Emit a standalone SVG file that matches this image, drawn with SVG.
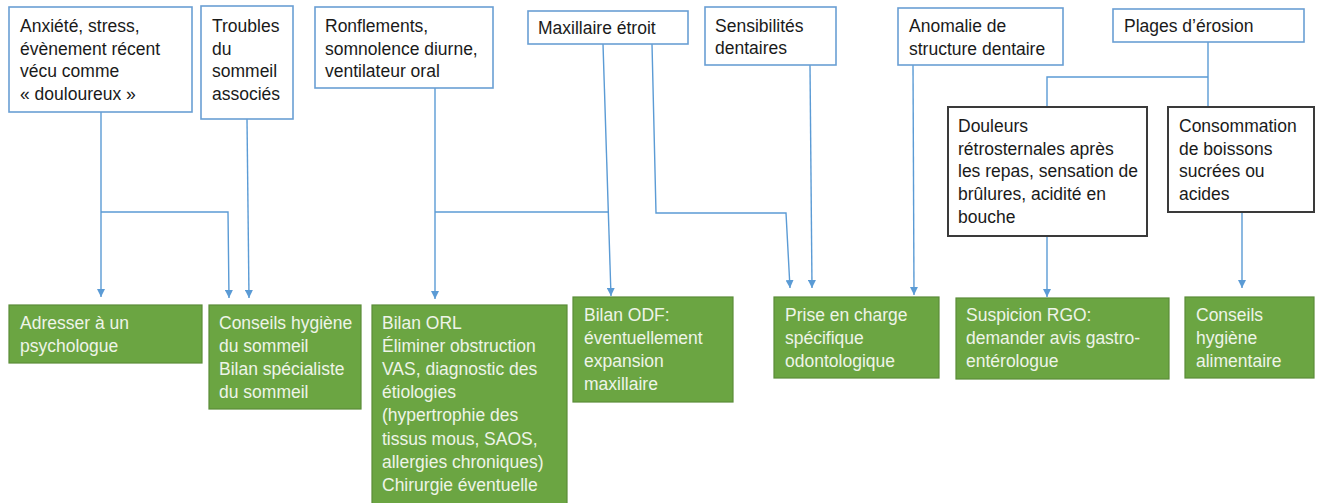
<svg xmlns="http://www.w3.org/2000/svg" width="1320" height="503" viewBox="0 0 1320 503">
<style>
.t{font-family:"Liberation Sans",Arial,sans-serif;font-size:17.5px;fill:#1a1a1a}
.g{font-family:"Liberation Sans",Arial,sans-serif;font-size:17.5px;fill:#eef4e8}
.bb{fill:#ffffff;stroke:#6a9fd4;stroke-width:1.6}
.kb{fill:#ffffff;stroke:#3a3a3a;stroke-width:2}
.gb{fill:#6ba542;stroke:#5a8c38;stroke-width:1.2}
.c{fill:none;stroke:#5b9bd5;stroke-width:1.4}
</style>
<defs>
<marker id="ar" markerUnits="userSpaceOnUse" markerWidth="9" markerHeight="8" refX="8" refY="4" orient="auto">
<path d="M0,0 L8,4 L0,8 z" fill="#5b9bd5"/>
</marker>
</defs>
<rect width="1320" height="503" fill="#ffffff"/>

<g id="connectors">
<path class="c" d="M101,112 V297" marker-end="url(#ar)"/>
<path class="c" d="M101,212 H228 L229,298" marker-end="url(#ar)"/>
<path class="c" d="M247,119 L249,298" marker-end="url(#ar)"/>
<path class="c" d="M435,88 V299" marker-end="url(#ar)"/>
<path class="c" d="M435,212 H608"/>
<path class="c" d="M603,44 L611,296" marker-end="url(#ar)"/>
<path class="c" d="M652,44 L656,213 H786 L790,288" marker-end="url(#ar)"/>
<path class="c" d="M810,65 L812,288" marker-end="url(#ar)"/>
<path class="c" d="M913,65 L914,295" marker-end="url(#ar)"/>
<path class="c" d="M1208,42 V107"/>
<path class="c" d="M1208,77 H1047 V107"/>
<path class="c" d="M1047,236 V297" marker-end="url(#ar)"/>
<path class="c" d="M1242,212 V288" marker-end="url(#ar)"/>
</g>

<g id="n-anxiete">
<rect class="bb" x="9" y="7" width="183" height="105"/>
<text class="t" x="20" y="32">Anxiété, stress,</text>
<text class="t" x="20" y="54.7">évènement récent</text>
<text class="t" x="20" y="77.4">vécu comme</text>
<text class="t" x="20" y="100.1">« douloureux »</text>
</g>
<g id="n-troubles">
<rect class="bb" x="201" y="6" width="92" height="113"/>
<text class="t" x="212" y="32">Troubles</text>
<text class="t" x="212" y="54.7">du</text>
<text class="t" x="212" y="77.4">sommeil</text>
<text class="t" x="212" y="100.1">associés</text>
</g>
<g id="n-ronflements">
<rect class="bb" x="315" y="7" width="178" height="81"/>
<text class="t" x="325" y="32">Ronflements,</text>
<text class="t" x="325" y="54.7">somnolence diurne,</text>
<text class="t" x="325" y="77.4">ventilateur oral</text>
</g>
<g id="n-maxillaire">
<rect class="bb" x="528" y="11" width="160" height="33"/>
<text class="t" x="538" y="34">Maxillaire étroit</text>
</g>
<g id="n-sensibilites">
<rect class="bb" x="705" y="7" width="131" height="58"/>
<text class="t" x="715" y="31.5">Sensibilités</text>
<text class="t" x="715" y="54.2">dentaires</text>
</g>
<g id="n-anomalie">
<rect class="bb" x="898" y="8" width="165" height="57"/>
<text class="t" x="909" y="32">Anomalie de</text>
<text class="t" x="909" y="54.7">structure dentaire</text>
</g>
<g id="n-plages">
<rect class="bb" x="1113" y="9" width="191" height="33"/>
<text class="t" x="1124" y="32">Plages d’érosion</text>
</g>
<g id="n-douleurs">
<rect class="kb" x="948" y="107" width="199" height="129"/>
<text class="t" x="958" y="132">Douleurs</text>
<text class="t" x="958" y="154.7">rétrosternales après</text>
<text class="t" x="958" y="177.4">les repas, sensation de</text>
<text class="t" x="958" y="200.1">brûlures, acidité en</text>
<text class="t" x="958" y="222.8">bouche</text>
</g>
<g id="n-consommation">
<rect class="kb" x="1168" y="107" width="146" height="105"/>
<text class="t" x="1179" y="132">Consommation</text>
<text class="t" x="1179" y="154.7">de boissons</text>
<text class="t" x="1179" y="177.4">sucrées ou</text>
<text class="t" x="1179" y="200.1">acides</text>
</g>

<g id="n-psychologue">
<rect class="gb" x="9" y="305" width="193" height="58"/>
<text class="g" x="20" y="328.5">Adresser à un</text>
<text class="g" x="20" y="351.5">psychologue</text>
</g>
<g id="n-sommeil">
<rect class="gb" x="209" y="305" width="152" height="104"/>
<text class="g" x="219" y="328.5">Conseils hygiène</text>
<text class="g" x="219" y="351.5">du sommeil</text>
<text class="g" x="219" y="374.5">Bilan spécialiste</text>
<text class="g" x="219" y="397.5">du sommeil</text>
</g>
<g id="n-orl">
<rect class="gb" x="372" y="305" width="195" height="200"/>
<text class="g" x="382" y="328.5">Bilan ORL</text>
<text class="g" x="382" y="351.7">Éliminer obstruction</text>
<text class="g" x="382" y="374.9">VAS, diagnostic des</text>
<text class="g" x="382" y="398.1">étiologies</text>
<text class="g" x="382" y="421.3">(hypertrophie des</text>
<text class="g" x="382" y="444.5">tissus mous, SAOS,</text>
<text class="g" x="382" y="467.7">allergies chroniques)</text>
<text class="g" x="382" y="490.9">Chirurgie éventuelle</text>
</g>
<g id="n-odf">
<rect class="gb" x="573" y="297" width="160" height="105"/>
<text class="g" x="584" y="320.5">Bilan ODF:</text>
<text class="g" x="584" y="343.7">éventuellement</text>
<text class="g" x="584" y="366.9">expansion</text>
<text class="g" x="584" y="390.1">maxillaire</text>
</g>
<g id="n-odonto">
<rect class="gb" x="774" y="297" width="165" height="81"/>
<text class="g" x="785" y="320.5">Prise en charge</text>
<text class="g" x="785" y="343.5">spécifique</text>
<text class="g" x="785" y="366.5">odontologique</text>
</g>
<g id="n-rgo">
<rect class="gb" x="956" y="298" width="213" height="81"/>
<text class="g" x="966" y="320.5">Suspicion RGO:</text>
<text class="g" x="966" y="343.5">demander avis gastro-</text>
<text class="g" x="966" y="366.5">entérologue</text>
</g>
<g id="n-alimentaire">
<rect class="gb" x="1185" y="297" width="129" height="81"/>
<text class="g" x="1196" y="320.5">Conseils</text>
<text class="g" x="1196" y="343.5">hygiène</text>
<text class="g" x="1196" y="366.5">alimentaire</text>
</g>
</svg>
